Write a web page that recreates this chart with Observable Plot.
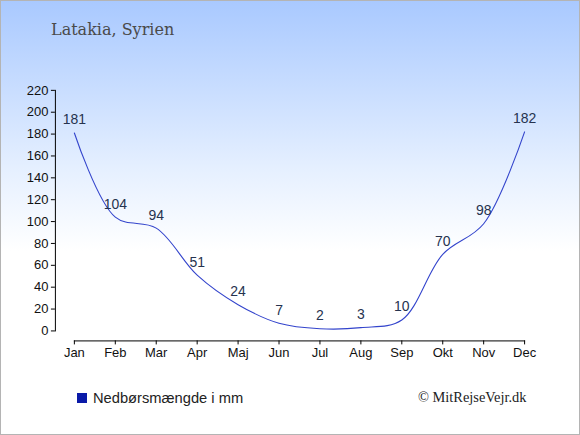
<!DOCTYPE html>
<html>
<head>
<meta charset="utf-8">
<script src="https://cdn.jsdelivr.net/npm/d3@7"></script>
<script src="https://cdn.jsdelivr.net/npm/@observablehq/plot@0.6"></script>
<style>
  html, body { margin: 0; padding: 0; background: #fff; }
  #wrap {
    position: relative; width: 578px; height: 433px;
    border: 1px solid #b4b4b4;
    background: linear-gradient(to bottom, #a9c9ff 0px, #e6f0ff 170px, #ffffff 250px, #ffffff 100%);
    overflow: hidden;
  }
  #title {
    position: absolute; left: 50px; top: 19px;
    font-family: "DejaVu Serif", serif; font-size: 16px; color: #4a4a4a;
  }
  #legend {
    position: absolute; left: 76px; top: 389px;
    font-family: "Liberation Sans", Arial, sans-serif; font-size: 14.7px; color: #222;
    display: flex; align-items: center;
  }
  #legend .sw { width: 10px; height: 10px; background: #0a1aa8; margin-right: 6px; }
  #credit {
    position: absolute; left: 417px; top: 388px;
    font-family: "Liberation Serif", "Times New Roman", serif; font-size: 14.4px; color: #222;
  }
  #chart { position: absolute; left: -1px; top: -1px; }
  #chart svg { background: transparent; overflow: visible; }
</style>
</head>
<body>
<div id="wrap">
  <div id="chart"></div>
  <div id="title">Latakia, Syrien</div>
  <div id="legend"><div class="sw"></div><span>Nedbørsmængde i mm</span></div>
  <div id="credit">© MitRejseVejr.dk</div>
</div>
<script>
const months = ["Jan","Feb","Mar","Apr","Maj","Jun","Jul","Aug","Sep","Okt","Nov","Dec"];
const rain = [181,104,94,51,24,7,2,3,10,70,98,182];
const yTicks = [0,20,40,60,80,100,120,140,160,180,200,220];

const data = months.map((m, i) => ({month: m, value: rain[i]}));

const chart = Plot.plot({
  width: 580,
  height: 435,
  marginLeft: 74,
  marginRight: 55,
  marginTop: 90,
  marginBottom: 94,
  style: {background: "transparent", fontFamily: "'Liberation Sans', Arial, sans-serif"},
  x: {type: "point", domain: months, padding: 0, label: null},
  y: {domain: [0, 220], insetBottom: 10, label: null},
  marks: [
    Plot.frame({anchor: "bottom", stroke: "#000"}),
    Plot.frame({anchor: "left", dx: -19, insetBottom: 10, stroke: "#000"}),
    Plot.axisX({anchor: "bottom", tickSize: 4, tickPadding: 3, fontSize: 13, fill: "#111", stroke: "#000", label: null}),
    Plot.axisY({anchor: "left", dx: -19, ticks: yTicks, tickSize: 4, tickPadding: 3, fontSize: 13, fill: "#111", stroke: "#000", label: null, tickFormat: d3.format("d")}),
    Plot.line(data, {x: "month", y: "value", curve: "catmull-rom", stroke: "#3344cc", strokeWidth: 1.1}),
    Plot.text(data, {x: "month", y: "value", text: d => String(d.value), dy: -13, fontSize: 14, fill: "#26334f", lineAnchor: "middle"})
  ]
});
document.getElementById("chart").appendChild(chart);
</script>
</body>
</html>
